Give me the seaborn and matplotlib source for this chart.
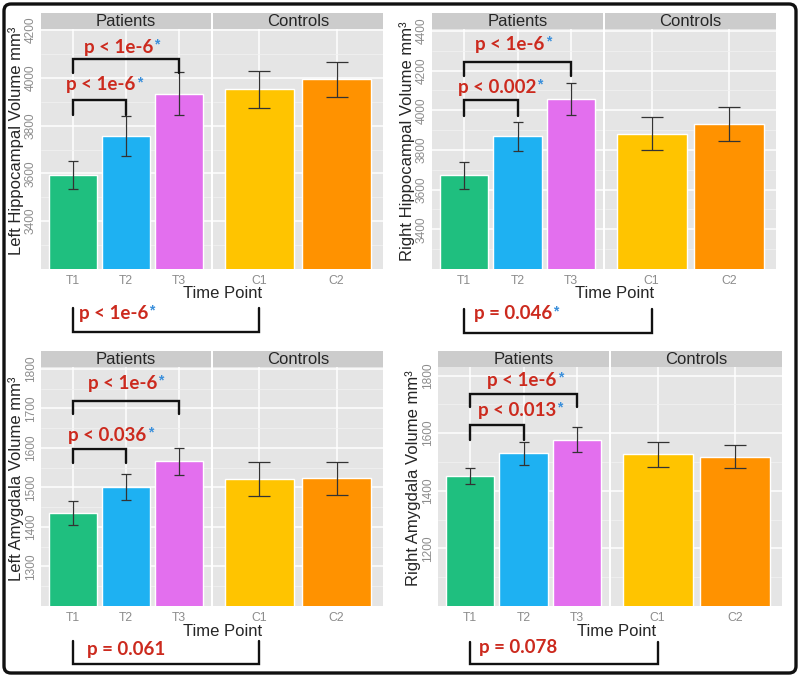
import numpy as np
import pandas as pd
import matplotlib
matplotlib.use("Agg")
import matplotlib.pyplot as plt
import seaborn as sns
from matplotlib.lines import Line2D
from matplotlib.patches import FancyBboxPatch
from matplotlib.ticker import MultipleLocator
from matplotlib.transforms import IdentityTransform

# ---- data ----
time_points = ["T1", "T2", "T3", "C1", "C2"]
bar_colors = ["#1fbf7f", "#1eb1f2", "#e36fee", "#ffc400", "#ff9200"]

left_hippo = [3595, 3757, 3934, 3952, 3994]
left_hippo_err = [58, 82, 90, 77, 72]
right_hippo = [3673, 3870, 4056, 3882, 3932]
right_hippo_err = [68, 73, 81, 83, 86]
left_amyg = [1436, 1501, 1566, 1521, 1523]
left_amyg_err = [30, 32, 35, 43, 42]
right_amyg = [1451, 1531, 1578, 1527, 1519]
right_amyg_err = [29, 40, 42, 43, 41]

ylabels = ["Left Hippocampal Volume mm³", "Right Hippocampal Volume mm³",
           "Left Amygdala Volume mm³", "Right Amygdala Volume mm³"]

p_t1_t3 = ["p < 1e-6", "p < 1e-6", "p < 1e-6", "p < 1e-6"]
p_t1_t2 = ["p < 1e-6", "p < 0.002", "p < 0.036", "p < 0.013"]
p_pat_ctl = ["p < 1e-6", "p = 0.046", "p = 0.061", "p = 0.078"]
sig_pat_ctl = [True, True, False, False]

# ---- layout (pixels, top-left origin) ----
W, H = 800, 679
panels = [
    dict(vals=left_hippo, errs=left_hippo_err, ylim=(3200, 4205), ystep=200, yfirst=3400,
         x0=41, x1=383, top=13, bot=269, ylab_x=16, xlab=(223, 294),
         br_outer=(4079, 4021, 4129, 0.86), br_inner=(3908, 3846, 3971, 0.53),
         bb=(308, 332, 313, 6)),
    dict(vals=right_hippo, errs=right_hippo_err, ylim=(3200, 4410), ystep=200, yfirst=3400,
         x0=432, x1=776, top=13, bot=269, ylab_x=407, xlab=(615, 294),
         br_outer=(4244, 4173, 4333, 0.86), br_inner=(4051, 3973, 4115, 0.62),
         bb=(309, 333, 314, 10)),
    dict(vals=left_amyg, errs=left_amyg_err, ylim=(1200, 1805), ystep=100, yfirst=1300,
         x0=41, x1=383, top=351, bot=606, ylab_x=16, xlab=(223, 632),
         br_outer=(1720, 1685, 1763, 0.93), br_inner=(1597, 1561, 1632, 0.65),
         bb=(641, 664, 649, 14)),
    dict(vals=right_amyg, errs=right_amyg_err, ylim=(1000, 1830), ystep=200, yfirst=1200,
         x0=438, x1=782, top=351, bot=606, ylab_x=413, xlab=(617, 632),
         br_outer=(1736, 1691, 1782, 0.97), br_inner=(1628, 1576, 1680, 0.88),
         bb=(642, 664, 648, 9)),
]

sns.set_style("white")
plt.rcParams["font.family"] = ["Liberation Sans", "DejaVu Sans"]
RED = "#cc2a1e"
BLUE = "#3a8fdb"
GREY = "#8c8c8c"

fig = plt.figure(figsize=(8, 6.79), dpi=100)


def rect(x0, y0, x1, y1):
    return [x0 / W, 1 - y1 / H, (x1 - x0) / W, (y1 - y0) / H]


def add_star(ax, t):
    ax.annotate("*", xy=(1, 1), xycoords=t, xytext=(0.8, 1), textcoords="offset points",
                ha="left", va="top", color=BLUE, fontsize=10, fontweight="bold",
                annotation_clip=False)


def p_label(ax, x, y, txt, star, **kw):
    t = ax.text(x, y, txt, color=RED, fontsize=13.5, fontweight="bold",
                family=["Lato", "DejaVu Sans"], va="center", clip_on=False, **kw)
    if star:
        add_star(ax, t)
    return t


def facet(ax, names, vals, errs, colors, p, cap):
    df = pd.DataFrame({"Time Point": names, "Volume": vals})
    sns.barplot(data=df, x="Time Point", y="Volume", hue="Time Point", palette=colors,
                width=0.9, saturation=1, errorbar=None, legend=False, ax=ax)
    ax.errorbar(np.arange(len(names)), vals, yerr=errs, fmt="none", ecolor="#333333",
                elinewidth=0.9, capsize=cap, capthick=0.9, zorder=3)
    ax.set_xlim(-0.6, len(names) - 0.4)
    ax.set_ylim(*p["ylim"])
    ax.set_yticks(np.arange(p["yfirst"], p["ylim"][1] + 1, p["ystep"]))
    ax.yaxis.set_minor_locator(MultipleLocator(p["ystep"] / 2))
    ax.set_facecolor("#e5e5e5")
    ax.grid(which="major", color="white", lw=1.1)
    ax.grid(which="minor", axis="y", color="#f2f2f2", lw=0.5)
    ax.set_axisbelow(True)
    for s in ax.spines.values():
        s.set_visible(False)
    ax.set_xlabel("")
    ax.set_ylabel("")
    ax.tick_params(axis="x", length=3, width=0.7, color=GREY, labelcolor=GREY,
                   labelsize=8.8, pad=1.5)
    ax.tick_params(axis="y", which="minor", length=0)


def strip(x0, x1, top, label):
    s = fig.add_axes(rect(x0, top, x1, top + 16))
    s.set_facecolor("#cccccc")
    s.set_xticks([])
    s.set_yticks([])
    for sp in s.spines.values():
        sp.set_visible(False)
    s.text(0.5, 0.45, label, ha="center", va="center", fontsize=12, transform=s.transAxes)


for i, p in enumerate(panels):
    wf = (p["x1"] - p["x0"] - 2) / 2
    xp0, xp1 = p["x0"], p["x0"] + wf
    xc0, xc1 = p["x1"] - wf, p["x1"]
    ptop = p["top"] + 16

    ax_p = fig.add_axes(rect(xp0, ptop, xp1, p["bot"]))
    ax_c = fig.add_axes(rect(xc0, ptop, xc1, p["bot"]))
    facet(ax_p, time_points[:3], p["vals"][:3], p["errs"][:3], bar_colors[:3], p, 3.6)
    facet(ax_c, time_points[3:], p["vals"][3:], p["errs"][3:], bar_colors[3:], p, 7.9)

    ax_p.tick_params(axis="y", length=2.5, width=0.7, color=GREY, labelcolor=GREY,
                     labelsize=8.6, pad=0.5, labelrotation=90)
    plt.setp(ax_p.get_yticklabels(), va="center")
    ax_c.tick_params(axis="y", left=False, labelleft=False)

    strip(xp0, xp1, p["top"], "Patients")
    strip(xc0, xc1, p["top"], "Controls")

    fig.text(p["ylab_x"] / W, 1 - (p["top"] + p["bot"]) / 2 / H, ylabels[i],
             rotation=90, ha="center", va="center", fontsize=12)
    fig.text(p["xlab"][0] / W, 1 - p["xlab"][1] / H, "Time Point",
             ha="center", va="center", fontsize=12)

    # brackets within Patients facet
    h, e, ty, tx = p["br_outer"]
    ax_p.plot([0, 0, 2, 2], [e, h, h, e], color="#111111", lw=1.7, clip_on=False,
              solid_joinstyle="miter", zorder=4)
    p_label(ax_p, tx, ty, p_t1_t3[i], True, ha="center")
    h, e, ty, tx = p["br_inner"]
    ax_p.plot([0, 0, 1, 1], [e, h, h, e], color="#111111", lw=1.7, clip_on=False,
              solid_joinstyle="miter", zorder=4)
    p_label(ax_p, tx, ty, p_t1_t2[i], True, ha="center")

    # bracket Patients T1 vs Controls C1 below the panel
    xl = xp0 + 0.6 * wf / 3.2
    xr = xc0 + 0.6 * wf / 2.2
    yt, yb, tyy, off = p["bb"]
    fig.add_artist(Line2D([xl / W, xl / W, xr / W, xr / W],
                          [1 - yt / H, 1 - yb / H, 1 - yb / H, 1 - yt / H],
                          color="#111111", lw=1.7, solid_joinstyle="miter",
                          transform=fig.transFigure))
    t = fig.text((xl + off) / W, 1 - tyy / H, p_pat_ctl[i], color=RED, fontsize=13.5,
                 fontweight="bold", family=["Lato", "DejaVu Sans"], va="center", ha="left")
    if sig_pat_ctl[i]:
        add_star(ax_p, t)

# outer frame
fig.add_artist(FancyBboxPatch((4, H - 673), 792, 669, boxstyle="round,pad=0,rounding_size=7",
                              transform=IdentityTransform(), fill=False, lw=2.4,
                              edgecolor="#111111"))

fig.savefig("out.png", dpi=100, facecolor="white")
